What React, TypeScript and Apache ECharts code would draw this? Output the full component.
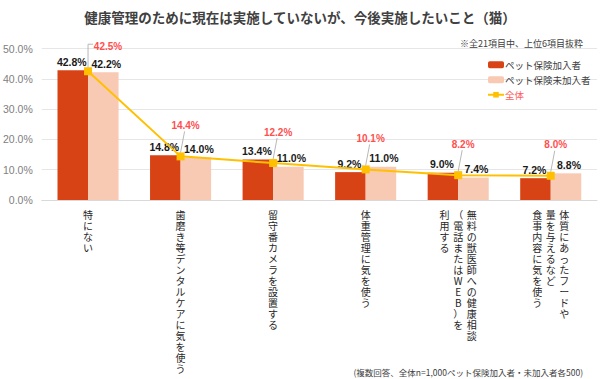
import React, { useEffect, useRef } from "react";
import * as echarts from "echarts";

const categories = [
  "特にない",
  "歯磨き等デンタルケアに気を使う",
  "留守番カメラを設置する",
  "体重管理に気を使う",
  "無料の獣医師への健康相談\n（電話またはWEB）を\n利用する",
  "体質にあったフードや\n量を与えるなど\n食事内容に気を使う",
];
const insured = [42.8, 14.8, 13.4, 9.2, 9.0, 7.2];
const uninsured = [42.2, 14.0, 11.0, 11.0, 7.4, 8.8];
const overall = [42.5, 14.4, 12.2, 10.1, 8.2, 8.0];
const yTicks = [0, 10, 20, 30, 40, 50];

const FONT = "'Noto Sans CJK JP', 'Noto Sans', sans-serif";
const NUMFONT = "'Liberation Sans', Arial, sans-serif";

function verticalLabel(value: string): string {
  const cols = value.split("\n").map((c) => Array.from(c));
  const rev = cols.slice().reverse();
  const n = Math.max(...cols.map((c) => c.length));
  const lines: string[] = [];
  for (let i = 0; i < n; i++) {
    lines.push(rev.map((c) => `{c|${c[i] ?? "　"}}`).join(""));
  }
  return lines.join("\n");
}

const pct = (v: number) => v.toFixed(1) + "%";

export default function App() {
  const ref = useRef<HTMLDivElement>(null);
  useEffect(() => {
    if (!ref.current) return;
    const chart = echarts.init(ref.current, undefined, { renderer: "svg" });
    const barLabel = {
      show: true,
      position: "top",
      distance: 3,
      fontFamily: NUMFONT,
      fontSize: 10.5,
      fontWeight: "bold",
      color: "#1a1a1a",
      formatter: (p: any) => pct(p.value),
    };
    chart.setOption({
      animation: false,
      backgroundColor: "#ffffff",
      title: [
        {
          text: "健康管理のために現在は実施していないが、今後実施したいこと（猫）",
          left: "center",
          top: 5,
          textStyle: { fontFamily: FONT, fontSize: 13.5, fontWeight: "bold", color: "#404040" },
        },
        {
          text: "※全21項目中、上位6項目抜粋",
          right: 12,
          top: 34,
          textStyle: { fontFamily: FONT, fontSize: 9, fontWeight: "normal", color: "#404040" },
        },
        {
          text: "(複数回答、全体n=1,000ペット保険加入者・未加入者各500)",
          right: 12,
          top: 363,
          textStyle: { fontFamily: FONT, fontSize: 8.5, fontWeight: "normal", color: "#404040" },
        },
      ],
      legend: {
        orient: "vertical",
        left: 482,
        top: 55,
        itemWidth: 16,
        itemHeight: 7,
        itemGap: 5.5,
        textStyle: { fontFamily: FONT, fontSize: 9.5, color: "#404040", padding: [0, 0, 0, -4] },
        data: [
          { name: "ペット保険加入者" },
          { name: "ペット保険未加入者" },
          { name: "全体", textStyle: { color: "#FF5B5B" } },
        ],
      },
      grid: { left: 37, right: 3, top: 48.5, bottom: 179, containLabel: false },
      xAxis: {
        type: "category",
        data: categories,
        axisLine: { lineStyle: { color: "#D9D9D9" } },
        axisTick: { show: false },
        axisLabel: {
          interval: 0,
          margin: 9,
          verticalAlign: "top",
          formatter: verticalLabel,
          rich: {
            c: {
              fontFamily: FONT,
              fontSize: 10,
              lineHeight: 11,
              width: 13.6,
              align: "center",
              color: "#262626",
            },
          },
        },
      },
      yAxis: {
        type: "value",
        min: 0,
        max: 50,
        interval: 10,
        axisLine: { show: false },
        axisTick: { show: false },
        splitLine: { lineStyle: { color: "#E6E6E6" } },
        axisLabel: {
          margin: 9,
          fontFamily: NUMFONT,
          fontSize: 10.5,
          color: "#808080",
          formatter: (v: number) => (yTicks.includes(v) ? v.toFixed(1) + "%" : ""),
        },
      },
      series: [
        {
          name: "ペット保険加入者",
          type: "bar",
          data: insured,
          barGap: "0%",
          barCategoryGap: "34%",
          itemStyle: { color: "#D84315" },
          label: { ...barLabel, offset: [-1, 0] },
        },
        {
          name: "ペット保険未加入者",
          type: "bar",
          data: uninsured,
          itemStyle: { color: "#F8C9B3" },
          label: { ...barLabel, offset: [3, 0] },
        },
        {
          name: "全体",
          type: "line",
          data: overall,
          symbol: "rect",
          symbolSize: 8,
          lineStyle: { color: "#FFC000", width: 2 },
          itemStyle: { color: "#FFC000" },
          z: 5,
        },
        {
          name: "全体ラベル",
          type: "custom",
          data: overall.map((v, i) => [i, v]),
          encode: { x: 0, y: 1 },
          z: 6,
          silent: true,
          renderItem: (params: any, api: any) => {
            const i = params.dataIndex;
            const v = api.value(1);
            const pt = api.coord([api.value(0), v]);
            const first = i === 0;
            const lx = pt[0] + (first ? 20 : 5);
            const ly = pt[1] + (first ? -25 : -31);
            const points = first
              ? [
                  [pt[0], pt[1] - 4],
                  [pt[0], ly - 2],
                  [lx - 15, ly - 2],
                ]
              : [
                  [pt[0], pt[1] - 4],
                  [lx - 1, ly + 6],
                ];
            return {
              type: "group",
              children: [
                {
                  type: "polyline",
                  shape: { points },
                  style: { stroke: "#A6A6A6", lineWidth: 0.8, fill: null },
                },
                {
                  type: "text",
                  style: {
                    text: pct(v),
                    x: lx,
                    y: ly,
                    align: "center",
                    verticalAlign: "middle",
                    font: `bold 10px ${NUMFONT}`,
                    fill: "#FF4F4F",
                  },
                },
              ],
            };
          },
        },
      ],
    });
    return () => chart.dispose();
  }, []);
  return <div ref={ref} style={{ width: 600, height: 379, position: "absolute", left: 0, top: 0 }} />;
}
